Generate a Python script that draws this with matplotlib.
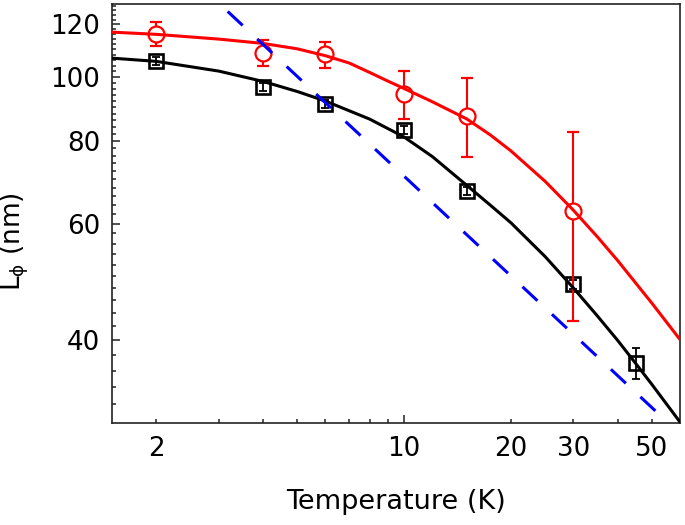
import matplotlib
matplotlib.use("Agg")
import matplotlib.pyplot as plt
from matplotlib.ticker import FixedLocator, FixedFormatter, NullFormatter

plt.rcParams['font.family'] = ['DejaVu Sans']
plt.rcParams['mathtext.fontset'] = 'dejavusans'

# ---- data ----
T_red = [2, 4, 6, 10, 15, 30]
L_red = [116.0, 108.8, 108.2, 94.2, 87.4, 62.6]
L_red_hi = [120.9, 113.6, 112.7, 102.1, 99.5, 82.4]
L_red_lo = [111.4, 103.9, 103.2, 86.3, 75.7, 42.7]

T_blk = [2, 4, 6, 10, 15, 30, 45]
L_blk = [105.7, 96.4, 90.9, 83.2, 67.2, 48.6, 37.0]
L_blk_err = [1.5, 1.3, 1.3, 1.2, 1.0, 0.8, 2.0]

# fitted curves
T_fit_red = [1.5, 2, 3, 4, 5, 6, 7, 8, 9, 10, 12, 15, 17.5, 20, 25, 30, 35, 40, 50, 60]
L_fit_red = [116.8, 115.9, 114.0, 112.3, 110.2, 107.6, 104.9, 101.5, 98.5, 96.0,
             91.7, 86.4, 81.7, 77.3, 69.5, 62.9, 57.4, 52.8, 45.5, 40.1]

T_fit_blk = [1.5, 2, 3, 4, 5, 6, 8, 10, 12, 15, 17.5, 20, 25, 30, 35, 40, 45, 50, 60]
L_fit_blk = [106.7, 105.5, 102.0, 98.4, 95.0, 91.9, 86.3, 81.1, 75.8, 68.6,
             64.0, 60.2, 53.5, 48.0, 43.6, 40.0, 36.9, 34.3, 30.1]

# power law guide (T^-1/2)
T_pow = [3.18, 52.1]
L_pow = [125.5, 31.0]

x_major = [10]
x_minor = [2, 3, 4, 5, 6, 7, 8, 9, 20, 30, 40, 50]
x_minor_labels = ['2', '', '', '', '', '', '', '', '20', '30', '', '50']
y_major = [40, 60, 80, 100, 120]
y_minor = [v for v in range(32, 130, 2) if v not in y_major]

fig = plt.figure(figsize=(6.85, 5.25), dpi=100)
ax = fig.add_axes([112/685, 1-423/525, (680-112)/685, (423-4)/525])
ax.set_xscale('log')
ax.set_yscale('log')

# black squares
ax.plot(T_blk, L_blk, 's', ms=10.5, mfc='white', mec='black', mew=1.9, zorder=2)
ax.errorbar(T_blk, L_blk, yerr=L_blk_err, fmt='none', ecolor='black',
            elinewidth=1.3, capsize=3, capthick=1.3, zorder=2.2)

# red circles
yerr_red = [[l - lo for l, lo in zip(L_red, L_red_lo)],
            [hi - l for l, hi in zip(L_red, L_red_hi)]]
ax.errorbar(T_red, L_red, yerr=yerr_red, fmt='o', ms=11.5, mfc='white', mec='red',
            mew=1.6, ecolor='red', elinewidth=1.5, capsize=4, capthick=1.5, zorder=2.5)

# fit curves
ax.plot(T_fit_blk, L_fit_blk, '-', color='black', lw=2.2, zorder=3,
        solid_joinstyle='round')
ax.plot(T_fit_red, L_fit_red, '-', color='red', lw=2.2, zorder=3,
        solid_joinstyle='round')
ax.plot(T_pow, L_pow, '--', color='blue', lw=2.2, dashes=(6.7, 6.5), zorder=4)

ax.set_xlim(1.5, 60)
ax.set_ylim(30, 128.8)

ax.xaxis.set_major_locator(FixedLocator(x_major))
ax.xaxis.set_major_formatter(FixedFormatter(['10']))
ax.xaxis.set_minor_locator(FixedLocator(x_minor))
ax.xaxis.set_minor_formatter(FixedFormatter(x_minor_labels))
ax.yaxis.set_major_locator(FixedLocator(y_major))
ax.yaxis.set_major_formatter(FixedFormatter([str(v) for v in y_major]))
ax.yaxis.set_minor_locator(FixedLocator(y_minor))
ax.yaxis.set_minor_formatter(NullFormatter())

ax.tick_params(axis='both', which='both', direction='in', width=1.1, colors='#222222',
               labelcolor='black', labelsize=18.8)
ax.tick_params(axis='both', which='major', length=6)
ax.tick_params(axis='both', which='minor', length=3.2)
ax.tick_params(axis='x', which='both', pad=9)
ax.tick_params(axis='y', which='both', pad=8.5)

for s in ax.spines.values():
    s.set_linewidth(1.2)
    s.set_color('#222222')

ax.set_xlabel('Temperature (K)', fontsize=19.5, va='baseline')
ax.xaxis.set_label_coords(0.5, (423-509)/419)
ax.set_ylabel('L$_{\\mathregular{ϕ}}$ (nm)', fontsize=19, va='center', ha='center')
ax.yaxis.set_label_coords((15-112)/568, (423-242)/419)

fig.savefig('out.png', dpi=100)
